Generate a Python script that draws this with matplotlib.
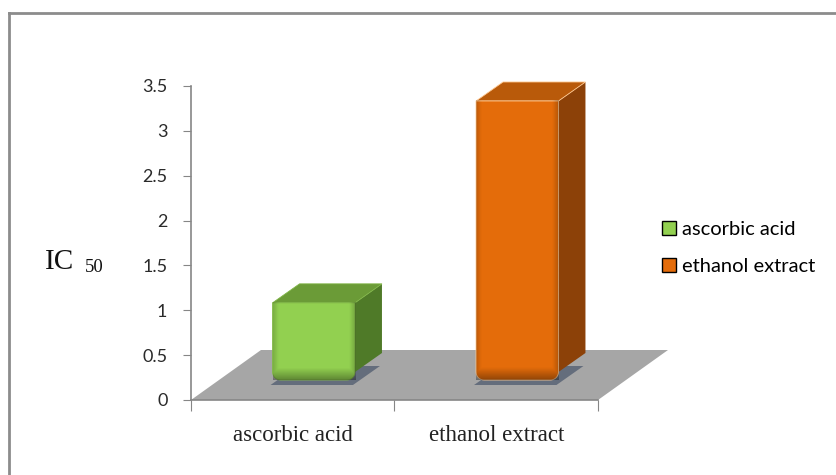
import numpy as np
import matplotlib
matplotlib.use('Agg')
import matplotlib.pyplot as plt
from matplotlib.patches import Polygon, Patch
from matplotlib.lines import Line2D

# IC50 values
categories = ['ascorbic acid', 'ethanol extract']
ic50 = [0.86, 3.11]
series_names = ['ascorbic acid', 'ethanol extract']
y_ticks = [0, 0.5, 1, 1.5, 2, 2.5, 3, 3.5]
y_tick_labels = ['0', '0.5', '1', '1.5', '2', '2.5', '3', '3.5']

front_cols = ['#92d050', '#e46c0a']
top_cols = ['#6b9b37', '#b95a0a']
side_cols = ['#4f7a28', '#8c4108']
edge_cols = ['#7fb545', '#ffc890']

W, H = 837, 475
fig = plt.figure(figsize=(W / 100, H / 100), dpi=100)
ax = fig.add_axes([191 / W, 75 / H, 407 / W, 314 / H])
ax.set_xlim(0, 2)
ax.set_ylim(0, 3.5)

# pixel -> data unit conversion for the fake 3d depth
sx = 2 / 407
sy = 3.5 / 314


def px(dx, dy):
    return dx * sx, dy * sy


axis_gray = '#868686'
for s in ['top', 'right']:
    ax.spines[s].set_visible(False)
for s in ['left', 'bottom']:
    ax.spines[s].set_color(axis_gray)
    ax.spines[s].set_linewidth(1.2)

ax.set_yticks(y_ticks)
ax.set_yticklabels(y_tick_labels, family=['Lato', 'DejaVu Sans'], fontsize=13, color='#2a2a2a')
ax.tick_params(axis='y', direction='out', length=6, color=axis_gray, pad=11)
ax.set_xticks([0, 1, 2])
ax.set_xticklabels(['', '', ''])
ax.tick_params(axis='x', which='major', direction='out', length=8, color=axis_gray)
ax.set_xticks([0.5, 1.5], minor=True)
ax.set_xticklabels(categories, minor=True, family='Liberation Serif', fontsize=16.5, color='#222222')
ax.tick_params(axis='x', which='minor', length=0, pad=18)

# floor
fx, fy = px(70, 50)
floor = Polygon([(0, 0), (2, 0), (2 + fx, fy), (fx, fy)], closed=True,
                facecolor='#a6a6a6', edgecolor='none', clip_on=False, zorder=0.5)
ax.add_patch(floor)

bw = 0.405
bx, by = px(21, 20)
ddx, ddy = px(27, 19)
rx, ry = px(8, 8)


def rounded_front(x0, x1, y0, y1):
    # rectangle with rounded lower corners
    t = np.linspace(0, np.pi / 2, 10)
    pts = [(x0, y1)]
    pts += [(x0 + rx - rx * np.cos(a), y0 + ry - ry * np.sin(a)) for a in t]
    pts += [(x1 - rx + rx * np.sin(a), y0 + ry - ry * np.cos(a)) for a in t]
    pts += [(x1, y1)]
    return pts


for i, v in enumerate(ic50):
    x0 = i + 0.5 - bw / 2 + bx
    x1 = x0 + bw
    y0 = by
    y1 = by + v

    # shadow on the floor
    sdx, sdy = px(-2, -5)
    shadow = Polygon([(x0 + sdx, y0 + sdy), (x1 + sdx, y0 + sdy),
                      (x1 + ddx + sdx, y0 + ddy + sdy), (x0 + ddx + sdx, y0 + ddy + sdy)],
                     facecolor='#646d7c', edgecolor='none', clip_on=False, zorder=1)
    ax.add_patch(shadow)

    side = Polygon([(x1, y0 + ry), (x1, y1), (x1 + ddx, y1 + ddy), (x1 + ddx, y0 + ddy + ry)],
                   facecolor=side_cols[i], edgecolor='none', clip_on=False, zorder=2)
    ax.add_patch(side)
    top = Polygon([(x0, y1), (x1, y1), (x1 + ddx, y1 + ddy), (x0 + ddx, y1 + ddy)],
                  facecolor=top_cols[i], edgecolor=edge_cols[i], lw=0.6, clip_on=False, zorder=2)
    ax.add_patch(top)

    front = Polygon(rounded_front(x0, x1, y0, y1), facecolor=front_cols[i],
                    edgecolor=edge_cols[i], lw=0.6, clip_on=False, zorder=3)
    ax.add_patch(front)

    # bevel shading on the front face
    nh = 200
    yy = np.linspace(0, 1, nh)[:, None]
    xx = np.linspace(0, 1, 60)[None, :]
    hpx = v / sy
    shade = np.clip(1 - (yy * hpx) / 12, 0, 1) * 0.35
    shade = np.maximum(shade, np.clip(1 - xx * 82 / 5, 0, 1) * 0.15)
    shade = np.maximum(shade, np.clip(1 - (1 - xx) * 82 / 6, 0, 1) * 0.2)
    rgba = np.zeros((nh, 60, 4))
    rgba[..., 3] = shade
    im = ax.imshow(rgba, extent=(x0, x1, y0, y1), origin='lower', aspect='auto',
                   interpolation='bilinear', zorder=3.5, clip_on=False)
    im.set_clip_path(front)

ax.set_xlim(0, 2)
ax.set_ylim(0, 3.5)

# y label: IC with a lowered 50
fig.text(45 / W, 1 - 269 / H, 'IC', family='Liberation Serif', fontsize=21,
         color='#111111', va='baseline', ha='left')
fig.text(85 / W, 1 - 272 / H, '50', family='Liberation Serif', fontsize=13.5,
         color='#111111', va='baseline', ha='left')

handles = [Patch(facecolor=front_cols[k], edgecolor='black', lw=1.0) for k in range(2)]
fig.legend(handles, series_names, loc='center left', bbox_to_anchor=(644 / W, 1 - 248 / H),
           frameon=False, handlelength=0.7, handleheight=0.7, handletextpad=0.3,
           labelspacing=1.0, prop={'family': ['Lato', 'DejaVu Sans'], 'size': 14.5})

# chart border
fig.add_artist(Line2D([9 / W, 1], [1 - 13 / H, 1 - 13 / H], color='#8c8c8c', lw=2))
fig.add_artist(Line2D([9 / W, 9 / W], [0, 1 - 13 / H], color='#8c8c8c', lw=2))

fig.savefig('out.png', dpi=100)
